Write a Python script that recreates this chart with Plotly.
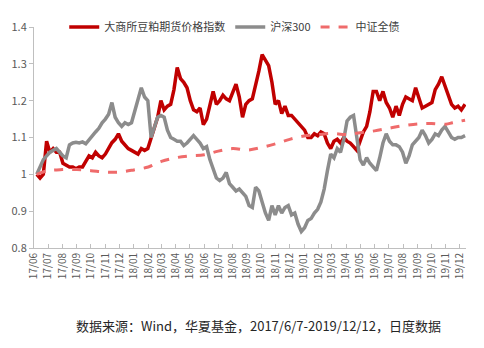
import pandas as pd
import plotly.graph_objects as go

# Weekly observation dates (2017/6/7 - 2019/12/12)
week_dates = list(pd.date_range("2017-06-07", periods=131, freq="7D").strftime("%Y-%m-%d")) + ["2019-12-12"]

# 大商所豆粕期货价格指数 (normalised, start = 1)
soymeal = [
    1.00, 0.99, 1.00, 1.09, 1.06, 1.07, 1.06, 1.06, 1.03, 1.025, 1.02, 1.02, 1.015,
    1.02, 1.02, 1.035, 1.05, 1.045, 1.06, 1.05, 1.045, 1.055, 1.07, 1.086, 1.095, 1.11,
    1.09, 1.08, 1.07, 1.065, 1.06, 1.055, 1.07, 1.065, 1.07, 1.10, 1.13, 1.155, 1.20,
    1.175, 1.185, 1.19, 1.23, 1.29, 1.26, 1.25, 1.235, 1.20, 1.175, 1.17, 1.18, 1.135,
    1.15, 1.19, 1.225, 1.19, 1.20, 1.215, 1.205, 1.20, 1.22, 1.245, 1.21, 1.155, 1.19,
    1.20, 1.205, 1.24, 1.28, 1.325, 1.31, 1.295, 1.25, 1.19, 1.20, 1.165, 1.185, 1.16,
    1.16, 1.15, 1.14, 1.13, 1.12, 1.10, 1.10, 1.11, 1.105, 1.115, 1.11, 1.085, 1.07,
    1.09, 1.095, 1.085, 1.10, 1.09, 1.085, 1.075, 1.065, 1.09, 1.115, 1.13, 1.17, 1.225,
    1.225, 1.20, 1.225, 1.195, 1.18, 1.155, 1.185, 1.16, 1.19, 1.21, 1.205, 1.20, 1.235,
    1.21, 1.18, 1.185, 1.19, 1.195, 1.23, 1.245, 1.265, 1.24, 1.21, 1.19, 1.18, 1.185,
    1.175, 1.19,
]

# 沪深300 (normalised, start = 1)
csi300 = [
    1.00, 1.02, 1.04, 1.05, 1.06, 1.065, 1.07, 1.06, 1.05, 1.045, 1.08, 1.085, 1.087,
    1.085, 1.088, 1.083, 1.095, 1.105, 1.115, 1.125, 1.14, 1.15, 1.163, 1.195, 1.155, 1.14,
    1.13, 1.14, 1.135, 1.14, 1.17, 1.205, 1.235, 1.21, 1.20, 1.10, 1.13, 1.155, 1.16,
    1.155, 1.12, 1.10, 1.095, 1.09, 1.09, 1.078, 1.085, 1.095, 1.105, 1.095, 1.085, 1.07,
    1.075, 1.04, 1.015, 0.99, 0.983, 0.99, 1.005, 0.975, 0.965, 0.955, 0.96, 0.95, 0.94,
    0.915, 0.91, 0.965, 0.955, 0.925, 0.895, 0.875, 0.915, 0.89, 0.915, 0.895, 0.91, 0.915,
    0.89, 0.895, 0.865, 0.845, 0.855, 0.875, 0.88, 0.895, 0.905, 0.925, 0.96, 1.01, 1.055,
    1.045, 1.07, 1.06, 1.095, 1.145, 1.155, 1.16, 1.10, 1.04, 1.025, 1.045, 1.03, 1.02,
    1.01, 1.045, 1.085, 1.11, 1.09, 1.08, 1.08, 1.075, 1.06, 1.03, 1.05, 1.08, 1.09,
    1.10, 1.12, 1.105, 1.085, 1.095, 1.11, 1.105, 1.12, 1.13, 1.115, 1.10, 1.095, 1.10,
    1.10, 1.105,
]

# 中证全债 (normalised, start = 1)
bond_dates = [
    "2017-06-07", "2017-07-01", "2017-08-01", "2017-09-01", "2017-10-01", "2017-11-01",
    "2017-12-01", "2018-01-01", "2018-02-01", "2018-03-01", "2018-04-01", "2018-05-01",
    "2018-06-01", "2018-07-01", "2018-08-01", "2018-09-01", "2018-10-01", "2018-11-01",
    "2018-12-01", "2019-01-01", "2019-02-01", "2019-03-01", "2019-04-01", "2019-05-01",
    "2019-06-01", "2019-07-01", "2019-08-01", "2019-09-01", "2019-10-01", "2019-11-01",
    "2019-11-15", "2019-12-12",
]
bond = [
    1.000, 1.010, 1.013, 1.013, 1.010, 1.006, 1.006, 1.012, 1.020, 1.035, 1.045, 1.050,
    1.053, 1.063, 1.070, 1.066, 1.073, 1.083, 1.095, 1.104, 1.108, 1.111, 1.108, 1.113,
    1.118, 1.125, 1.132, 1.137, 1.138, 1.136, 1.140, 1.147,
]

# Month ticks shown as yy/mm
tick_dates = list(pd.date_range("2017-06-01", "2019-12-01", freq="MS").strftime("%Y-%m-%d"))
tick_text = [d[2:4] + "/" + d[5:7] for d in tick_dates]

FONT = "Noto Sans CJK SC, Microsoft YaHei, sans-serif"

fig = go.Figure()
fig.add_trace(go.Scatter(
    x=week_dates, y=soymeal, mode="lines", name="大商所豆粕期货价格指数",
    line=dict(color="#c00000", width=3.5),
))
fig.add_trace(go.Scatter(
    x=week_dates, y=csi300, mode="lines", name="沪深300",
    line=dict(color="#8c8c8c", width=3.5),
))
fig.add_trace(go.Scatter(
    x=bond_dates, y=bond, mode="lines", name="中证全债",
    line=dict(color="#ef6b6b", width=3, dash="dash", shape="spline"),
))

fig.update_layout(
    width=484, height=348,
    margin=dict(l=32, r=18, t=15, b=100),
    paper_bgcolor="white", plot_bgcolor="white",
    font=dict(family=FONT, size=11, color="#595959"),
    showlegend=True,
    legend=dict(
        orientation="h", x=0.07, y=1.0, xanchor="left", yanchor="middle",
        font=dict(family=FONT, size=11, color="#404040"),
        bgcolor="rgba(0,0,0,0)", itemwidth=30, tracegroupgap=0,
    ),
    xaxis=dict(
        type="date", range=["2017-06-01", "2019-12-14"],
        tickmode="array", tickvals=tick_dates, ticktext=tick_text,
        tickangle=-90, tickfont=dict(size=10, color="#595959"),
        showline=True, linecolor="#bfbfbf", linewidth=1,
        ticks="inside", ticklen=4, tickcolor="#bfbfbf",
        showgrid=False, zeroline=False,
    ),
    yaxis=dict(
        range=[0.8, 1.4], dtick=0.1, tick0=0.8,
        tickfont=dict(size=11, color="#595959"),
        showline=True, linecolor="#bfbfbf", linewidth=1,
        ticks="outside", ticklen=4, tickcolor="#bfbfbf",
        showgrid=False, zeroline=False,
    ),
)

fig.add_annotation(
    text="数据来源：Wind，华夏基金，2017/6/7-2019/12/12，日度数据",
    xref="paper", yref="paper", x=0.092, y=-0.352,
    xanchor="left", yanchor="middle", showarrow=False,
    font=dict(family=FONT, size=13, color="#262626"),
)

fig.write_html("out.html")
